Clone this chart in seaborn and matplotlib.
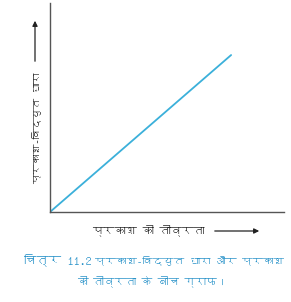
import matplotlib
matplotlib.use("Agg")
import matplotlib.pyplot as plt
from matplotlib import font_manager
from matplotlib.ft2font import FT2Font
import seaborn as sns
import pandas as pd

# ---- data ----
intensity = [0.0, 0.774]          # प्रकाश की तीव्रता (relative)
photocurrent = [0.0, 0.751]       # प्रकाश-विद्युत धारा (relative)
xlabel_text = "प्रकाश की तीव्रता"
ylabel_text = "प्रकाश-विद्युत धारा"
caption_bold = "चित्र 11.2"
caption_line1 = "प्रकाश-विद्युत धारा और प्रकाश"
caption_line2 = "की तीव्रता के बीच ग्राफ।"

sns.set_theme(style="white")

# find an installed font with Devanagari glyphs, if any
deva = None
for f in font_manager.fontManager.ttflist:
    try:
        cm = FT2Font(f.fname).get_charmap()
        if 0x0915 in cm and 0x093F in cm:
            deva = f.name
            break
    except Exception:
        pass
families = ([deva] if deva else []) + ["DejaVu Sans"]
plt.rcParams["font.family"] = families

W, H = 291, 302
fig = plt.figure(figsize=(W / 100, H / 100), dpi=100)
ax = fig.add_axes([50 / W, 1 - 212 / H, (284 - 50) / W, (212 - 3) / H])

df = pd.DataFrame({"x": intensity, "y": photocurrent})
sns.lineplot(data=df, x="x", y="y", ax=ax, color="#3bb0da", linewidth=1.3)
ax.set_xlim(0, 1)
ax.set_ylim(0, 1)
ax.set_xticks([])
ax.set_yticks([])
ax.set_xlabel("")
ax.set_ylabel("")
for s in ["top", "right"]:
    ax.spines[s].set_visible(False)
for s in ["left", "bottom"]:
    ax.spines[s].set_color("#555555")
    ax.spines[s].set_linewidth(1.0)

def fx(px):
    return px / W

def fy(py):
    return 1 - py / H

renderer = fig.canvas.get_renderer()

def fit(t, target, vertical=False):
    """Scale font so the text spans about `target` pixels."""
    for _ in range(3):
        bb = t.get_window_extent(renderer=renderer)
        span = bb.height if vertical else bb.width
        if span > 0:
            t.set_fontsize(t.get_fontsize() * target / span)
    return t

txtcol = "#222222"
# y label + arrow
t = fig.text(fx(36), fy(128), ylabel_text, rotation=90, ha="center", va="center",
             fontsize=9, color=txtcol)
fit(t, 112, vertical=True)
fig.add_artist(matplotlib.patches.FancyArrowPatch(
    (fx(35), fy(64)), (fx(35), fy(18)), transform=fig.transFigure,
    arrowstyle="-|>,head_length=3,head_width=1.5", color=txtcol, lw=0.9))
# x label + arrow
t = fig.text(fx(148), fy(230), xlabel_text, ha="center", va="center",
             fontsize=9, color=txtcol)
fit(t, 112)
fig.add_artist(matplotlib.patches.FancyArrowPatch(
    (fx(212), fy(231)), (fx(262), fy(231)), transform=fig.transFigure,
    arrowstyle="-|>,head_length=3,head_width=1.5", color=txtcol, lw=0.9))

# caption
capcol = "#2a93c9"
tb = fig.text(fx(24), fy(260), caption_bold, ha="left", va="center", fontsize=9.5,
              fontweight="bold", color=capcol)
fit(tb, 68)
t1 = fig.text(fx(95), fy(260), caption_line1, ha="left", va="center", fontsize=9,
              color=capcol)
fit(t1, 188)
t2 = fig.text(fx(152), fy(281), caption_line2, ha="center", va="center", fontsize=9,
              color=capcol)
fit(t2, 150)

fig.savefig("out.png", dpi=100, facecolor="white")
